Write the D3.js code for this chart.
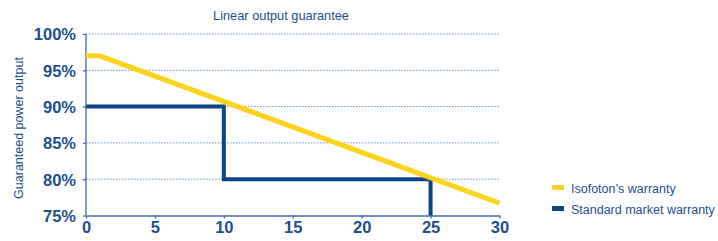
<!DOCTYPE html>
<html>
<head>
<meta charset="utf-8">
<script src="https://cdn.jsdelivr.net/npm/d3@7"></script>
<style>
  body { margin: 0; background: #fff; }
  text { font-family: "Liberation Sans", Arial, sans-serif; }
</style>
</head>
<body>
<svg id="Diagram" width="718" height="241"></svg>
<script>
// data
var years = [0, 1, 30];
var isofoton = [97, 97, 76.7];
var stdYears = [0, 10, 10, 25, 25];
var stdValues = [90, 90, 80, 80, 75];
var xTicks = [0, 5, 10, 15, 20, 25, 30];
var yTicks = [75, 80, 85, 90, 95, 100];
var legendNames = ["Isofoton\u2019s warranty", "Standard market warranty"];

var textColor = "#1c4f8c", axisColor = "#3d6ea6";
var yellow = "#ffd21c", blue = "#0b4585";

var svg = d3.select("#Diagram");

var x = d3.scaleLinear().domain([0, 30]).range([86, 499.5]);
var y = d3.scaleLinear().domain([75, 100]).range([215.5, 34]);

// title
svg.append("text")
    .attr("x", 281).attr("y", 19.5)
    .attr("text-anchor", "middle")
    .style("font-size", "12.8px")
    .style("fill", textColor)
    .text("Linear output guarantee");

// y label
svg.append("text")
    .attr("transform", "translate(22.5,128) rotate(-90)")
    .attr("text-anchor", "middle")
    .style("font-size", "12.5px")
    .style("fill", textColor)
    .text("Guaranteed power output");

// dotted grid
svg.append("g")
    .selectAll("line")
    .data(yTicks.filter(function (d) { return d > 75; }))
    .enter()
    .append("line")
    .attr("x1", x(0)).attr("x2", x(30))
    .attr("y1", function (d) { return y(d); })
    .attr("y2", function (d) { return y(d); })
    .attr("stroke", "#6f93bd")
    .attr("stroke-width", 1)
    .attr("stroke-dasharray", "1.5,1.5");

// axes
var yAxis = svg.append("g")
    .attr("transform", "translate(" + x(0) + ",0)")
    .call(d3.axisLeft(y).tickValues(yTicks).tickSize(3).tickPadding(7)
        .tickFormat(function (d) { return d + "%"; }));
var xAxis = svg.append("g")
    .attr("transform", "translate(0," + y(75) + ")")
    .call(d3.axisBottom(x).tickValues(xTicks).tickSize(3).tickPadding(3).tickSizeOuter(0));

[xAxis, yAxis].forEach(function (a) {
    a.select(".domain").attr("stroke", axisColor).attr("stroke-width", 1.3);
    a.selectAll(".tick line").attr("stroke", axisColor).attr("stroke-width", 1.3);
    a.selectAll(".tick text")
        .style("font-family", "'Liberation Sans', Arial, sans-serif")
        .style("font-size", "16.5px")
        .style("font-weight", "bold")
        .attr("fill", textColor);
});
yAxis.select(".domain").attr("d", "M0," + y(75) + "V" + y(100));
yAxis.selectAll(".tick text").attr("dy", "0.36em");

// lines
var line = d3.line()
    .x(function (d) { return x(d[0]); })
    .y(function (d) { return y(d[1]); });

svg.append("path")
    .datum(stdYears.map(function (d, i) { return [d, stdValues[i]]; }))
    .attr("d", line)
    .attr("fill", "none")
    .attr("stroke", blue)
    .attr("stroke-width", 4);

svg.append("path")
    .datum(years.map(function (d, i) { return [d, isofoton[i]]; }))
    .attr("d", line)
    .attr("fill", "none")
    .attr("stroke", yellow)
    .attr("stroke-width", 5);

// legend
var legend = svg.append("g")
    .selectAll("g")
    .data(legendNames)
    .enter()
    .append("g")
    .attr("transform", function (d, i) { return "translate(552," + (188 + i * 21) + ")"; });
legend.append("rect")
    .attr("x", 0).attr("y", -3)
    .attr("width", 12).attr("height", 5)
    .attr("fill", function (d, i) { return i ? blue : yellow; });
legend.append("text")
    .attr("x", 19).attr("y", 4.5)
    .style("font-size", "12.5px")
    .style("fill", textColor)
    .text(function (d) { return d; });
</script>
</body>
</html>
